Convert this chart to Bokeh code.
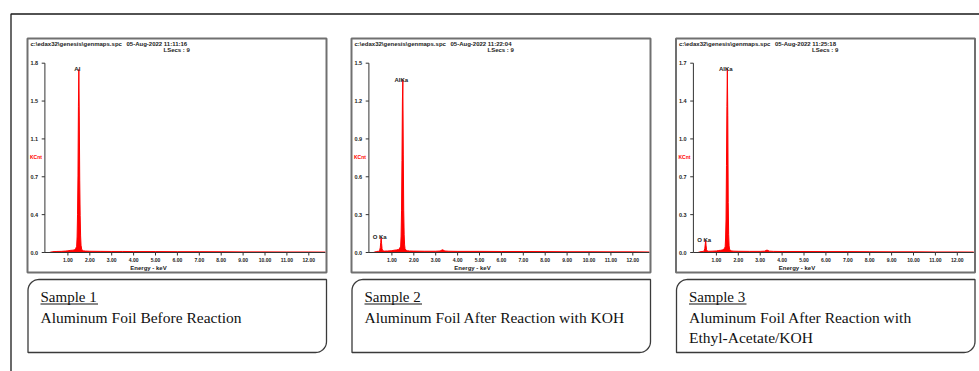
import numpy as np
from bokeh.plotting import figure
from bokeh.models import Range1d
from bokeh.core.properties import value
from bokeh.embed import file_html
from bokeh.resources import INLINE

W, H = 979, 371

# ---------------- data ----------------
file_path = "c:\\edax32\\genesis\\genmaps.spc"
timestamps = ["05-Aug-2022 11:11:16", "05-Aug-2022 11:22:04", "05-Aug-2022 11:25:18"]
lsecs_label = "LSecs :  9"
y_axis_title = "KCnt"
x_axis_title = "Energy - keV"

full_scale = [1.83, 1.50, 1.70]
ytick_labels = [
    ["0.0", "0.4", "0.7", "1.1", "1.5", "1.8"],
    ["0.0", "0.3", "0.6", "0.9", "1.2", "1.5"],
    ["0.0", "0.3", "0.7", "1.0", "1.4", "1.7"],
]
xtick_values = [1.0, 2.0, 3.0, 4.0, 5.0, 6.0, 7.0, 8.0, 9.0, 10.0, 11.0, 12.0]
xtick_labels = ["1.00", "2.00", "3.00", "4.00", "5.00", "6.00",
                "7.00", "8.00", "9.00", "10.00", "11.00", "12.00"]

energy_1 = [0.15, 0.30, 0.50, 0.70, 0.90, 1.00, 1.10, 1.20, 1.30, 1.36,
            1.40, 1.42, 1.44, 1.46, 1.48, 1.50, 1.52, 1.54, 1.56, 1.58,
            1.60, 1.63, 1.70, 1.80, 2.00, 2.50, 3.00, 3.50, 4.00, 5.00,
            6.00, 7.00, 8.00, 9.00, 10.00, 11.00, 12.00, 12.75]
kcnt_1 = [0.0, 0.008, 0.010, 0.011, 0.014, 0.016, 0.020, 0.022, 0.025, 0.04,
          0.06, 0.15, 0.37, 0.74, 1.41, 1.77, 1.32, 0.70, 0.36, 0.16,
          0.07, 0.03, 0.016, 0.014, 0.012, 0.011, 0.010, 0.010, 0.009, 0.009,
          0.008, 0.008, 0.007, 0.006, 0.006, 0.005, 0.005, 0.004]

energy_2 = [0.15, 0.30, 0.40, 0.44, 0.47, 0.49, 0.51, 0.53, 0.55, 0.58,
            0.65, 0.80, 1.00, 1.10, 1.20, 1.30, 1.36, 1.40, 1.42, 1.44,
            1.46, 1.48, 1.50, 1.52, 1.54, 1.56, 1.58, 1.60, 1.63, 1.70,
            1.80, 2.00, 2.50, 3.00, 3.20, 3.31, 3.42, 3.60, 4.00, 5.00,
            6.00, 7.00, 8.00, 9.00, 10.00, 11.00, 12.00, 12.75]
kcnt_2 = [0.0, 0.008, 0.010, 0.015, 0.04, 0.08, 0.12, 0.07, 0.03, 0.014,
          0.011, 0.012, 0.014, 0.018, 0.020, 0.024, 0.035, 0.05, 0.13, 0.33,
          0.73, 1.20, 1.37, 0.78, 0.33, 0.14, 0.06, 0.03, 0.02, 0.014,
          0.012, 0.011, 0.010, 0.010, 0.012, 0.022, 0.012, 0.010, 0.009, 0.009,
          0.008, 0.008, 0.007, 0.006, 0.006, 0.005, 0.005, 0.004]

energy_3 = [0.15, 0.30, 0.40, 0.44, 0.47, 0.49, 0.51, 0.53, 0.55, 0.58,
            0.65, 0.80, 1.00, 1.10, 1.20, 1.30, 1.36, 1.40, 1.42, 1.44,
            1.46, 1.48, 1.50, 1.52, 1.54, 1.56, 1.58, 1.60, 1.63, 1.70,
            1.80, 2.00, 2.50, 3.00, 3.20, 3.31, 3.42, 3.60, 4.00, 5.00,
            6.00, 7.00, 8.00, 9.00, 10.00, 11.00, 12.00, 12.75]
kcnt_3 = [0.0, 0.008, 0.010, 0.015, 0.035, 0.07, 0.11, 0.06, 0.025, 0.014,
          0.011, 0.012, 0.014, 0.018, 0.020, 0.024, 0.035, 0.05, 0.13, 0.30,
          0.78, 1.31, 1.65, 1.23, 0.45, 0.16, 0.06, 0.03, 0.02, 0.014,
          0.012, 0.011, 0.010, 0.010, 0.012, 0.022, 0.012, 0.010, 0.009, 0.009,
          0.008, 0.008, 0.007, 0.006, 0.006, 0.005, 0.005, 0.004]

peak_labels_1 = [("Al", 1.50)]
peak_labels_2 = [("O Ka", 0.51), ("AlKa", 1.50)]
peak_labels_3 = [("O Ka", 0.51), ("AlKa", 1.50)]

sample_titles = ["Sample 1", "Sample 2", "Sample 3"]
sample_lines = [
    ["Aluminum Foil Before Reaction"],
    ["Aluminum Foil After Reaction with KOH"],
    ["Aluminum Foil After Reaction with", "Ethyl-Acetate/KOH"],
]

spectra = [(energy_1, kcnt_1, peak_labels_1),
           (energy_2, kcnt_2, peak_labels_2),
           (energy_3, kcnt_3, peak_labels_3)]

# ---------------- layout constants (pixels) ----------------
PANEL_DX = [0.0, 324.0, 648.5]
KEV_PX = 21.9
KEV0_PX = 45.5
BASE_PX = 252.0
TOP_PX = 62.7
X_AXIS_START = -0.05
X_AXIS_END = 12.75
RED = "#ff0000"
SANS = value("Liberation Sans")
SERIF = value("Liberation Serif")

p = figure(width=W, height=H, x_range=Range1d(0, W), y_range=Range1d(H, 0),
           output_backend="svg", toolbar_location=None,
           x_axis_location=None, y_axis_location=None, min_border=0,
           outline_line_color=None, background_fill_color="white",
           border_fill_color="white")
p.xgrid.visible = False
p.ygrid.visible = False

# outer frame (only left and top are inside the picture)
p.line(x=[10.5, 10.5, W + 5], y=[H + 5, 13.5, 13.5], line_color="#1a1a1a", line_width=1.3)


def rounded_box(x0, y0, x1, y1, r):
    t = np.linspace(0, np.pi / 2, 14)
    xs = list(x0 + r - r * np.cos(t))
    ys = list(y0 + r - r * np.sin(t))
    xs += [x1, x1]
    ys += [y0, y1 - r]
    xs += list(x1 - r + r * np.cos(t))
    ys += list(y1 - r + r * np.sin(t))
    xs += [x0]
    ys += [y1]
    return xs, ys


for i in range(3):
    dx = PANEL_DX[i]
    energy, kcnt, peaks = spectra[i]
    fs = full_scale[i]
    xn, yn = f"e{i}", f"k{i}"
    x0 = KEV0_PX + dx
    p.extra_x_ranges[xn] = Range1d(-x0 / KEV_PX, (W - x0) / KEV_PX)
    ky = (BASE_PX - TOP_PX) / fs
    b = H - BASE_PX
    p.extra_y_ranges[yn] = Range1d(-b / ky, (H - b) / ky)

    # panel frame
    p.quad(left=27 + dx, right=326 + dx, top=38, bottom=272,
           fill_color=None, line_color="#707070", line_width=2)

    # header
    p.text(x=[30 + dx, 126 + dx, 163 + dx], y=[43.3, 43.3, 49.5],
           text=[file_path, timestamps[i], lsecs_label],
           text_font=SANS, text_font_size="6px", text_font_style="bold",
           text_color="#222222", text_align="left", text_baseline="middle")

    # spectrum
    p.varea(x=energy, y1=0, y2=kcnt, fill_color=RED, fill_alpha=1.0,
            x_range_name=xn, y_range_name=yn)
    p.line(x=energy, y=kcnt, line_color=RED, line_width=1,
           x_range_name=xn, y_range_name=yn)

    # axes
    tick_vals = list(np.linspace(0, fs, len(ytick_labels[i])))
    p.segment(x0=[X_AXIS_START], y0=[0], x1=[X_AXIS_START], y1=[fs],
              line_color="#333333", line_width=1, x_range_name=xn, y_range_name=yn)
    p.segment(x0=[X_AXIS_START - 3.2 / KEV_PX] * len(tick_vals), y0=tick_vals,
              x1=[X_AXIS_START] * len(tick_vals), y1=tick_vals,
              line_color="#333333", line_width=1, x_range_name=xn, y_range_name=yn)
    p.text(x=[X_AXIS_START] * len(tick_vals), y=tick_vals, text=ytick_labels[i],
           x_offset=-14.4, text_font=SANS, text_font_size="5.5px",
           text_font_style="bold", text_color="#222222",
           text_align="left", text_baseline="middle",
           x_range_name=xn, y_range_name=yn)
    p.segment(x0=[X_AXIS_START], y0=[0], x1=[X_AXIS_END], y1=[0],
              line_color="#333333", line_width=1, x_range_name=xn, y_range_name=yn)
    p.segment(x0=xtick_values, y0=[0] * 12, x1=xtick_values, y1=[-3 / ky] * 12,
              line_color="#333333", line_width=1, x_range_name=xn, y_range_name=yn)
    p.text(x=xtick_values, y=[0] * 12, text=xtick_labels, y_offset=7.5,
           text_font=SANS, text_font_size="5px", text_font_style="bold",
           text_color="#222222", text_align="center", text_baseline="middle",
           x_range_name=xn, y_range_name=yn)

    # axis titles
    p.text(x=[148 + dx], y=[267.3], text=[x_axis_title], text_font=SANS,
           text_font_size="6px", text_font_style="bold", text_color="#222222",
           text_align="center", text_baseline="middle")
    p.text(x=[29.5 + dx], y=[156], text=[y_axis_title], text_font=SANS,
           text_font_size="5px", text_font_style="bold", text_color=RED,
           text_align="left", text_baseline="middle")

    # peak labels at the top of the peaks
    lx, ly, lt = [], [], []
    for name, e in peaks:
        k = kcnt[energy.index(e)]
        lx.append(e)
        ly.append(k)
        lt.append(name)
    p.text(x=lx, y=ly, text=lt, x_offset=-1.5, text_font=SANS,
           text_font_size="6px", text_font_style="bold", text_color="#222222",
           text_align="center", text_baseline="middle",
           x_range_name=xn, y_range_name=yn)

    # caption box
    bx, by = rounded_box(27.5 + dx, 279, 326 + dx, 352, 11)
    p.patch(bx, by, fill_color="white", line_color="#3a3a3a", line_width=1.3)
    p.text(x=[40 + dx], y=[296.5], text=[sample_titles[i]], text_font=SERIF,
           text_font_size="15px", text_color="#111111", text_align="left",
           text_baseline="middle")
    p.segment(x0=[40 + dx], y0=[303.5], x1=[97.5 + dx], y1=[303.5],
              line_color="#111111", line_width=1)
    lines = sample_lines[i]
    p.text(x=[40 + dx] * len(lines), y=[316.5 + 20 * j for j in range(len(lines))],
           text=lines, text_font=SERIF, text_font_size="15.5px",
           text_color="#111111", text_align="left", text_baseline="middle")

open("out.html", "w").write(file_html(p, INLINE))
